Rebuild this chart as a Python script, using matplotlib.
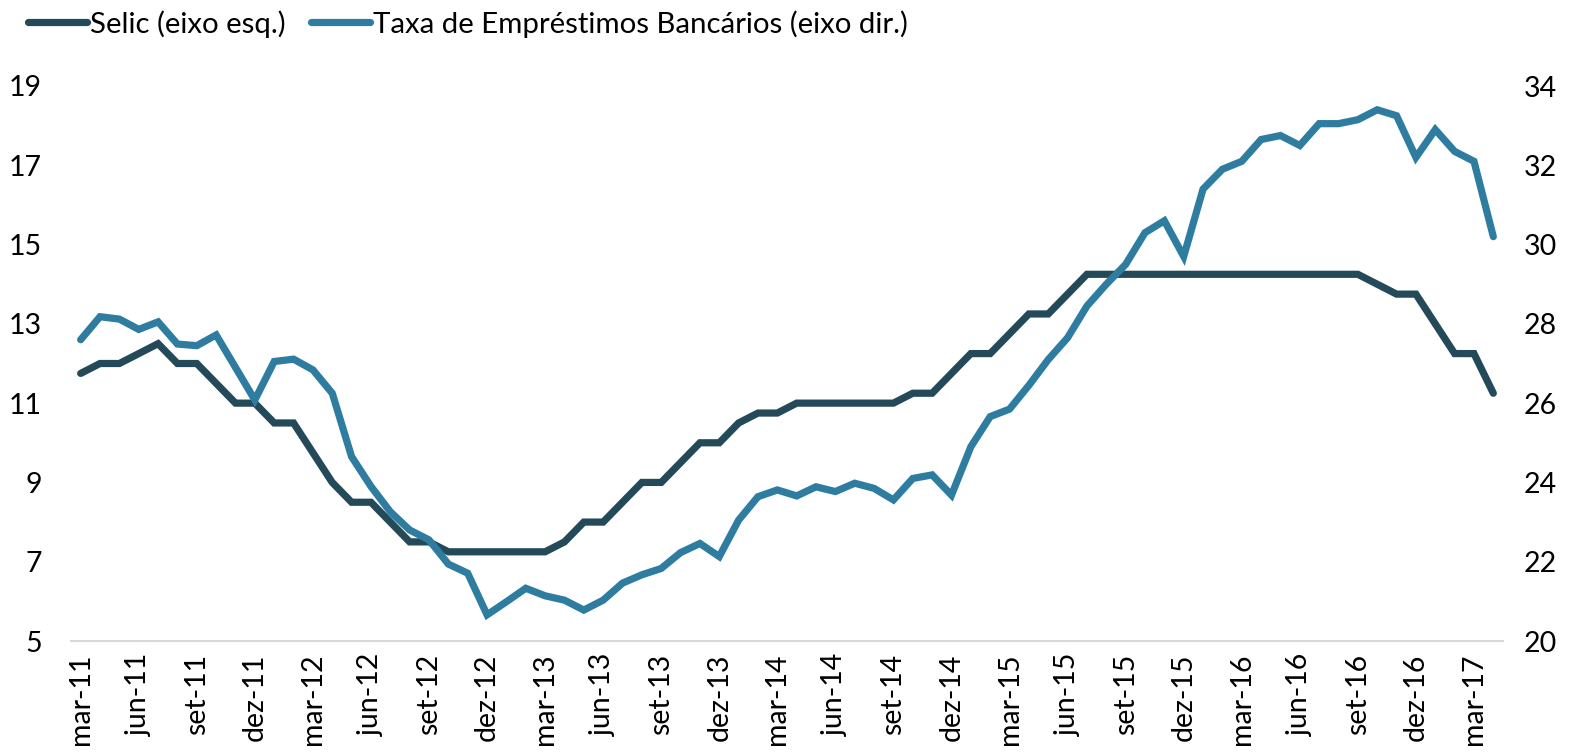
import matplotlib
matplotlib.use("Agg")
import matplotlib.pyplot as plt
import numpy as np

plt.rcParams['font.family'] = ['Lato', 'DejaVu Sans']

months_pt = ["jan", "fev", "mar", "abr", "mai", "jun", "jul", "ago", "set", "out", "nov", "dez"]

# monthly categories mar-11 .. abr-17
start_year, start_month = 2011, 3
n_points = 74

selic = [11.75, 12, 12, 12.25, 12.5, 12, 12, 11.5, 11, 11,
         10.5, 10.5, 9.75, 9, 8.5, 8.5, 8, 7.5, 7.5, 7.25,
         7.25, 7.25, 7.25, 7.25, 7.25, 7.5, 8, 8, 8.5, 9,
         9, 9.5, 10, 10, 10.5, 10.75, 10.75, 11, 11, 11,
         11, 11, 11, 11.25, 11.25, 11.75, 12.25, 12.25, 12.75, 13.25,
         13.25, 13.75, 14.25, 14.25, 14.25, 14.25, 14.25, 14.25, 14.25, 14.25,
         14.25, 14.25, 14.25, 14.25, 14.25, 14.25, 14.25, 14, 13.75, 13.75,
         13, 12.25, 12.25, 11.25]

taxa = [27.6, 28.18, 28.12, 27.86, 28.05, 27.49, 27.45, 27.72, 26.9, 26.08,
        27.05, 27.11, 26.84, 26.25, 24.65, 23.9, 23.26, 22.8, 22.55, 21.94,
        21.71, 20.66, 20.99, 21.33, 21.14, 21.03, 20.78, 21.03, 21.46, 21.67,
        21.83, 22.23, 22.46, 22.13, 23.05, 23.64, 23.81, 23.66, 23.89, 23.77,
        23.98, 23.85, 23.56, 24.1, 24.19, 23.68, 24.9, 25.66, 25.85, 26.45,
        27.1, 27.65, 28.45, 29.0, 29.5, 30.3, 30.6, 29.7, 31.4, 31.9,
        32.1, 32.65, 32.75, 32.5, 33.05, 33.05, 33.15, 33.4, 33.25, 32.2,
        32.9, 32.35, 32.1, 30.2]

labels = []
for i in range(n_points):
    m = (start_month - 1 + i) % 12
    y = start_year + (start_month - 1 + i) // 12
    labels.append(f"{months_pt[m]}-{y % 100:02d}")

left_ticks = [5, 7, 9, 11, 13, 15, 17, 19]
right_ticks = [20, 22, 24, 26, 28, 30, 32, 34]

c_selic = "#244a59"
c_taxa = "#2e7da1"

W, H = 1569, 754
fig = plt.figure(figsize=(W / 100, H / 100), dpi=100)
ax = fig.add_axes([71 / W, 1 - 641 / H, (1503 - 71) / W, (641 - 86) / H])
ax2 = ax.twinx()

x = np.arange(n_points)
l1, = ax.plot(x, selic, color=c_selic, lw=5.2, solid_joinstyle='miter', solid_capstyle='round',
              label="Selic (eixo esq.)")
l2, = ax2.plot(x, taxa, color=c_taxa, lw=5.2, solid_joinstyle='miter', solid_capstyle='round',
               label="Taxa de Empréstimos Bancários (eixo dir.)")

ax.set_xlim(-0.5, n_points - 0.5)
ax.set_ylim(5, 19)
ax2.set_ylim(20, 34)
ax.set_yticks(left_ticks)
ax2.set_yticks(right_ticks)

tick_idx = list(range(0, n_points, 3))
ax.set_xticks(tick_idx)
ax.set_xticklabels([labels[i] for i in tick_idx], rotation=90, fontsize=20.5)

for a in (ax, ax2):
    for s in a.spines.values():
        s.set_visible(False)
    a.tick_params(length=0)
ax.spines['bottom'].set_visible(True)
ax.spines['bottom'].set_color("#d9d9d9")
ax.spines['bottom'].set_linewidth(1.5)

ax.tick_params(axis='y', labelsize=20.5, pad=21)
ax2.tick_params(axis='y', labelsize=20.5, pad=15)
ax.tick_params(axis='x', pad=9)

fig.legend(handles=[l1, l2], loc='upper left', bbox_to_anchor=(0.003, 1.018), ncol=2,
           frameon=False, fontsize=21.2, handlelength=2.0, handletextpad=0.1,
           columnspacing=0.85, borderaxespad=0.4)

fig.savefig("out.png", dpi=100)
